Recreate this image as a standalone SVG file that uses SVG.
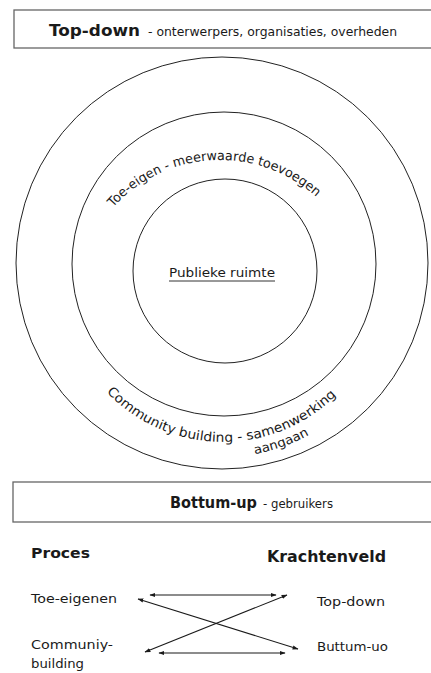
<svg xmlns="http://www.w3.org/2000/svg" width="431" height="673" viewBox="0 0 431 673">
<style>
.t{font-family:"DejaVu Sans","Liberation Sans",sans-serif;fill:#1a1a1a}
.b{font-weight:bold}
.box{fill:#fff;stroke:#666;stroke-width:1.3}
.ring{fill:none;stroke:#222;stroke-width:1}
.arr{stroke:#1a1a1a;stroke-width:1.1;fill:none;marker-start:url(#ah);marker-end:url(#ah)}
</style>
<defs>
<marker id="ah" viewBox="0 0 10 10" refX="9" refY="5" markerWidth="6" markerHeight="6" markerUnits="userSpaceOnUse" orient="auto-start-reverse">
<path d="M0,1.5 L10,5 L0,8.5 z" fill="#1a1a1a"/>
</marker>
<path id="arcTop" d="M113,207.6 A144,144 0 0 1 318.2,198.7"/>
<path id="arcBot" d="M106.5,392 A161,161 0 0 0 339.5,392"/>
<path id="arcBot2" d="M254.7,454.2 A177,177 0 0 0 336.8,415.6"/>
</defs>
<rect width="431" height="673" fill="#fff"/>

<g id="topbox">
<rect class="box" x="14" y="10" width="430" height="38"/>
<text class="t b" x="49" y="36" font-size="15" textLength="91" lengthAdjust="spacingAndGlyphs">Top-down</text>
<text class="t" x="148" y="36" font-size="12" textLength="249" lengthAdjust="spacingAndGlyphs">- onterwerpers, organisaties, overheden</text>
</g>

<g id="outer-ring">
<circle class="ring" cx="222" cy="263" r="206"/>
<text class="t" font-size="13"><textPath href="#arcBot" textLength="256" lengthAdjust="spacingAndGlyphs">Community building - samenwerking</textPath></text>
<text class="t" font-size="12.5"><textPath href="#arcBot2" textLength="58" lengthAdjust="spacingAndGlyphs">aangaan</textPath></text>
</g>

<g id="middle-ring">
<circle class="ring" cx="224" cy="264" r="152"/>
<text class="t" font-size="13"><textPath href="#arcTop" textLength="226" lengthAdjust="spacingAndGlyphs">Toe-eigen - meerwaarde toevoegen</textPath></text>
</g>

<g id="inner-ring">
<circle class="ring" cx="225" cy="271" r="92"/>
<text class="t" x="169" y="277" font-size="13" textLength="106" lengthAdjust="spacingAndGlyphs">Publieke ruimte</text>
<line x1="169" y1="281" x2="275" y2="281" stroke="#333" stroke-width="1"/>
</g>

<g id="bottombox">
<rect class="box" x="13" y="482" width="430" height="40"/>
<text class="t b" x="170" y="508" font-size="15" textLength="87" lengthAdjust="spacingAndGlyphs">Bottum-up</text>
<text class="t" x="263" y="508" font-size="12" textLength="70" lengthAdjust="spacingAndGlyphs">- gebruikers</text>
</g>

<g id="proces">
<text class="t b" x="31" y="558" font-size="14" textLength="59" lengthAdjust="spacingAndGlyphs">Proces</text>
</g>
<g id="krachtenveld">
<text class="t b" x="267" y="562" font-size="15" textLength="119" lengthAdjust="spacingAndGlyphs">Krachtenveld</text>
</g>
<g id="toe-eigenen">
<text class="t" x="31" y="603" font-size="13" textLength="86" lengthAdjust="spacingAndGlyphs">Toe-eigenen</text>
</g>
<g id="communiy-building">
<text class="t" x="31" y="649" font-size="13" textLength="82" lengthAdjust="spacingAndGlyphs">Communiy-</text>
<text class="t" x="31" y="668" font-size="13" textLength="53" lengthAdjust="spacingAndGlyphs">building</text>
</g>
<g id="top-down">
<text class="t" x="317" y="606" font-size="13" textLength="68" lengthAdjust="spacingAndGlyphs">Top-down</text>
</g>
<g id="buttum-uo">
<text class="t" x="317" y="651" font-size="13" textLength="71" lengthAdjust="spacingAndGlyphs">Buttum-uo</text>
</g>

<g id="connectors">
<line class="arr" x1="150" y1="595" x2="276" y2="595"/>
<line class="arr" x1="159" y1="653" x2="285" y2="653"/>
<line class="arr" x1="138" y1="599" x2="298" y2="649"/>
<line class="arr" x1="145" y1="652" x2="287" y2="595"/>
</g>
</svg>
